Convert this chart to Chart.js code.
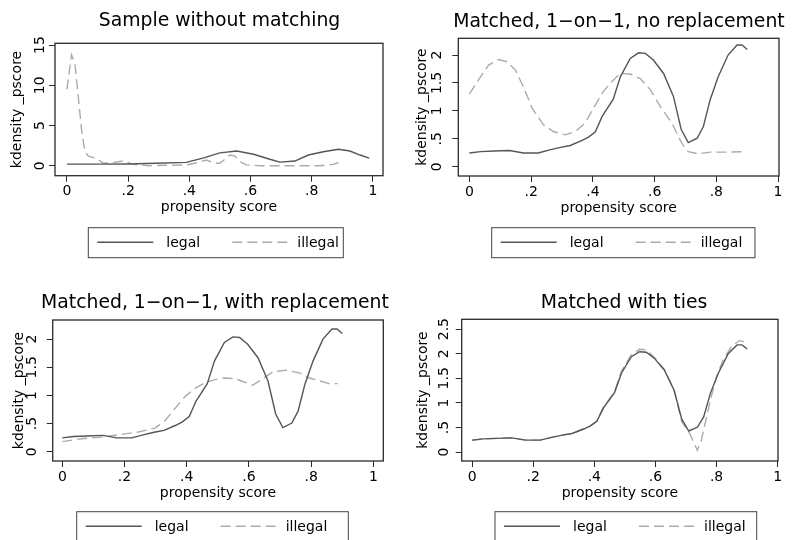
<!DOCTYPE html>
<html><head><meta charset="utf-8">
<script src="https://cdn.jsdelivr.net/npm/chart.js@4.4.1/dist/chart.umd.min.js"></script>
<style>
html,body{margin:0;padding:0;background:#fff;width:795px;height:540px;overflow:hidden}
canvas{position:absolute;left:0;top:0}
</style></head><body>
<canvas id="c0" width="795" height="540"></canvas>
<canvas id="c1" width="795" height="540"></canvas>
<canvas id="c2" width="795" height="540"></canvas>
<canvas id="c3" width="795" height="540"></canvas>
<script>
// ---- text ----
const panelTitles = ["Sample without matching", "Matched, 1\u2212on\u22121, no replacement", "Matched, 1\u2212on\u22121, with replacement", "Matched with ties"];
const seriesNames = ["legal", "illegal"];
const xAxisTitle = "propensity score";
const yAxisTitle = "kdensity _pscore";

// ---- ticks ----
const xTickValues = [0, 0.2, 0.4, 0.6, 0.8, 1];
const xTickLabels = ["0", ".2", ".4", ".6", ".8", "1"];
const yTickValues1 = [0, 5, 10, 15];
const yTickLabels1 = ["0", "5", "10", "15"];
const yTickValues23 = [0, 0.5, 1, 1.5, 2];
const yTickLabels23 = ["0", ".5", "1", "1.5", "2"];
const yTickValues4 = [0, 0.5, 1, 1.5, 2, 2.5];
const yTickLabels4 = ["0", ".5", "1", "1.5", "2", "2.5"];

// ---- series: panel 1 (no matching) ----
const p1LegalX = [0, .1, .2, .29, .39, .45, .5, .555, .61, .663, .696, .745, .789, .838, .887, .925, .958, .988];
const p1LegalY = [.2, .2, .22, .3, .42, 1.0, 1.6, 1.83, 1.42, .8, .45, .58, 1.33, 1.74, 2.04, 1.83, 1.33, .95];
const p1IllegalX = [0, .015, .026, .037, .048, .059, .07, .097, .12, .147, .185, .217, .266, .32, .39, .418, .456, .484, .5, .533, .549, .571, .587, .631, .686, .74, .827, .87, .887];
const p1IllegalY = [9.5, 13.8, 12.7, 8.6, 4.4, 1.75, 1.2, .9, .3, .37, .6, .17, 0, .05, .1, .3, .7, .3, .3, 1.33, 1.2, .37, .1, 0, 0, 0, 0, .17, .37];

// ---- series: matched treated group (panels 2-4) ----
const matchedLegalX = [0, .036, .08, .13, .175, .223, .26, .295, .327, .365, .386, .408, .43, .466, .489, .521, .548, .57, .596, .629, .661, .686, .709, .738, .758, .78, .806, .838, .867, .883, .9];
const matchedLegalY = [.245, .27, .28, .29, .245, .245, .30, .345, .38, .47, .53, .625, .90, 1.21, 1.61, 1.94, 2.04, 2.03, 1.91, 1.67, 1.26, .67, .43, .51, .72, 1.20, 1.61, 2.0, 2.18, 2.18, 2.1];

const p2IllegalX = [0, .036, .062, .094, .122, .149, .175, .203, .24, .272, .311, .343, .375, .402, .434, .466, .489, .521, .553, .586, .618, .656, .688, .709, .741, .78, .834, .893];
const p2IllegalY = [1.30, 1.61, 1.82, 1.92, 1.88, 1.73, 1.43, 1.05, .75, .63, .57, .63, .78, 1.05, 1.35, 1.55, 1.67, 1.66, 1.58, 1.38, 1.08, .78, .42, .27, .23, .26, .26, .27];

const p3IllegalX = [0, .062, .126, .18, .244, .298, .33, .361, .393, .425, .457, .49, .521, .553, .57, .612, .645, .677, .72, .762, .794, .826, .858, .885];
const p3IllegalY = [.18, .23, .26, .30, .35, .42, .55, .76, .97, 1.12, 1.22, 1.28, 1.31, 1.30, 1.27, 1.18, 1.30, 1.42, 1.45, 1.40, 1.31, 1.26, 1.21, 1.21];

const p4IllegalX = [0, .036, .08, .13, .175, .223, .26, .295, .327, .365, .386, .408, .43, .466, .489, .521, .548, .57, .596, .629, .661, .686, .712, .737, .75, .765, .78, .8, .822, .849, .876, .898];
const p4IllegalY = [.24, .27, .28, .29, .245, .245, .30, .345, .38, .47, .53, .625, .92, 1.22, 1.65, 1.98, 2.09, 2.08, 1.93, 1.68, 1.26, .62, .38, .04, .24, .65, 1.06, 1.54, 1.88, 2.15, 2.27, 2.22];

// ---- layout (positions/styles, not data) ----
const FONT = "'DejaVu Sans', 'Liberation Sans', sans-serif";
Chart.defaults.font.family = FONT;
Chart.defaults.font.size = 14;
Chart.defaults.color = '#000';

const Y_AXIS_W = 50, X_AXIS_H = 50;
const layouts = [
  {left:55, top:43.3, right:383, bottom:175.7, xmin:-0.039, xmax:1.033, ymin:-1.24, ymax:15.22, yPad:0.1, yTitlePad:4.4, titleX:219.5, titleY:26, legX:88.3, legY:227.7, legW:255, legH:30},
  {left:458.3, top:38.3, right:779, bottom:176, xmin:-0.036, xmax:1.003, ymin:-0.167, ymax:2.30, yPad:3.9, yTitlePad:5.4, titleX:619, titleY:26.5, legX:491.7, legY:227.7, legW:263.3, legH:30},
  {left:52.7, top:320, right:383.3, bottom:461, xmin:-0.031, xmax:1.032, ymin:-0.165, ymax:2.34, yPad:2.9, yTitlePad:8.4, titleX:215, titleY:307.5, legX:76.7, legY:511.7, legW:271.6, legH:30},
  {left:461.7, top:319.3, right:778, bottom:461, xmin:-0.034, xmax:1.001, ymin:-0.18, ymax:2.70, yPad:-0.1, yTitlePad:3.4, titleX:624, titleY:307.5, legX:495, legY:511.7, legW:261.7, legH:30}
];

const LEGAL_COLOR = '#555555', ILLEGAL_COLOR = '#ababab', DASH = [10, 5];

const pts = (xs, ys) => xs.map((x, i) => ({x: x, y: ys[i]}));

const decoPlugin = {
  id: 'panelDeco',
  afterDraw(chart, args, o) {
    const ctx = chart.ctx, a = chart.chartArea;
    ctx.save();
    ctx.strokeStyle = '#2a2a2a'; ctx.lineWidth = 1.3; ctx.setLineDash([]);
    ctx.strokeRect(a.left, a.top, a.right - a.left, a.bottom - a.top);
    ctx.fillStyle = '#000';
    ctx.font = '18.8px ' + FONT;
    ctx.textAlign = 'center'; ctx.textBaseline = 'alphabetic';
    ctx.fillText(o.title, o.titleX, o.titleY);
    ctx.strokeStyle = '#444'; ctx.lineWidth = 1;
    ctx.strokeRect(o.legX, o.legY, o.legW, o.legH);
    const offs = [[9, 65, 78], [144, 200, 209]];
    ctx.font = '14px ' + FONT;
    ctx.textAlign = 'left';
    chart.data.datasets.forEach((ds, i) => {
      const f = offs[i];
      const ly = o.legY + 14.5;
      ctx.strokeStyle = ds.borderColor; ctx.lineWidth = ds.borderWidth;
      ctx.setLineDash(ds.borderDash || []);
      ctx.beginPath(); ctx.moveTo(o.legX + f[0], ly); ctx.lineTo(o.legX + f[1], ly); ctx.stroke();
      ctx.setLineDash([]);
      ctx.fillStyle = '#000';
      ctx.fillText(ds.label, o.legX + f[2], o.legY + 19.5);
    });
    ctx.restore();
  }
};

function makePanel(idx, legal, illegal, yVals, yLabs) {
  const L = layouts[idx];
  return new Chart(document.getElementById('c' + idx), {
    type: 'line',
    data: {
      datasets: [
        {label: seriesNames[0], data: legal, borderColor: LEGAL_COLOR, borderWidth: 1.4, pointRadius: 0, tension: 0, fill: false},
        {label: seriesNames[1], data: illegal, borderColor: ILLEGAL_COLOR, borderWidth: 1.4, borderDash: DASH, pointRadius: 0, tension: 0, fill: false}
      ]
    },
    options: {
      responsive: false, animation: false, devicePixelRatio: 1, events: [],
      layout: {padding: {left: L.left - Y_AXIS_W, top: L.top, right: 795 - L.right, bottom: 540 - L.bottom - X_AXIS_H}},
      plugins: {
        legend: {display: false}, title: {display: false}, tooltip: {enabled: false},
        panelDeco: {title: panelTitles[idx], titleX: L.titleX, titleY: L.titleY, legX: L.legX, legY: L.legY, legW: L.legW, legH: L.legH}
      },
      scales: {
        x: {
          type: 'linear', position: 'bottom', min: L.xmin, max: L.xmax,
          afterBuildTicks: s => { s.ticks = xTickValues.map(v => ({value: v})); },
          afterFit: s => { s.height = X_AXIS_H; },
          ticks: {autoSkip: false, minRotation: 0, maxRotation: 0, padding: 1.5, color: '#000', font: {size: 14},
                  callback: (v, i) => xTickLabels[i]},
          grid: {drawOnChartArea: false, drawTicks: true, tickLength: 6, color: '#2a2a2a', lineWidth: 1},
          border: {display: false},
          title: {display: true, text: xAxisTitle, color: '#000', font: {size: 14}, padding: {top: 0, bottom: 9.6}}
        },
        y: {
          type: 'linear', position: 'left', min: L.ymin, max: L.ymax,
          afterBuildTicks: s => { s.ticks = yVals.map(v => ({value: v})); },
          afterFit: s => { s.width = Y_AXIS_W; },
          ticks: {autoSkip: false, minRotation: 90, maxRotation: 90, crossAlign: 'center', padding: L.yPad, color: '#000', font: {size: 14},
                  callback: (v, i) => yLabs[i]},
          grid: {drawOnChartArea: false, drawTicks: true, tickLength: 6, color: '#2a2a2a', lineWidth: 1},
          border: {display: false},
          title: {display: true, text: yAxisTitle, color: '#000', font: {size: 14}, padding: {top: L.yTitlePad, bottom: 0}}
        }
      }
    },
    plugins: [decoPlugin]
  });
}

makePanel(0, pts(p1LegalX, p1LegalY), pts(p1IllegalX, p1IllegalY), yTickValues1, yTickLabels1);
makePanel(1, pts(matchedLegalX, matchedLegalY), pts(p2IllegalX, p2IllegalY), yTickValues23, yTickLabels23);
makePanel(2, pts(matchedLegalX, matchedLegalY), pts(p3IllegalX, p3IllegalY), yTickValues23, yTickLabels23);
makePanel(3, pts(matchedLegalX, matchedLegalY), pts(p4IllegalX, p4IllegalY), yTickValues4, yTickLabels4);
</script>
</body></html>
